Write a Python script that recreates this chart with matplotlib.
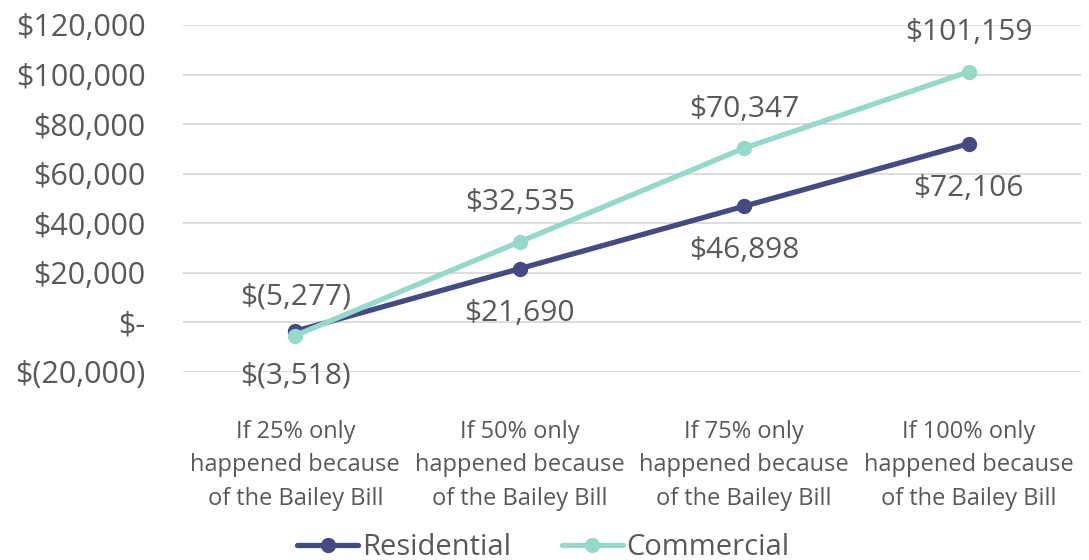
import matplotlib
matplotlib.use("Agg")
import matplotlib.pyplot as plt
from matplotlib.ticker import FuncFormatter

plt.rcParams['font.family'] = ['Open Sans', 'DejaVu Sans']

categories = ["If 25% only\nhappened because\nof the Bailey Bill",
              "If 50% only\nhappened because\nof the Bailey Bill",
              "If 75% only\nhappened because\nof the Bailey Bill",
              "If 100% only\nhappened because\nof the Bailey Bill"]
residential = [-3518, 21690, 46898, 72106]
commercial = [-5277, 32535, 70347, 101159]
y_ticks = [-20000, 0, 20000, 40000, 60000, 80000, 100000, 120000]

RES_COLOR = "#434B82"
COM_COLOR = "#94D9CA"
TEXT = "#595959"

def money(v, pos=None):
    if v == 0:
        return "$-"
    if v < 0:
        return "$({:,.0f})".format(-v)
    return "${:,.0f}".format(v)

fig = plt.figure(figsize=(10.89, 5.6), dpi=100)
ax = fig.add_axes([183/1089, 1-372/560, (1081-183)/1089, (372-25)/560])

x = list(range(len(categories)))
ax.plot(x, residential, color=RES_COLOR, lw=3.8, marker='o', ms=10,
        label="Residential", zorder=3, solid_capstyle='round')
ax.plot(x, commercial, color=COM_COLOR, lw=3.8, marker='o', ms=10,
        label="Commercial", zorder=4, solid_capstyle='round')

for xi, v in zip(x, residential):
    ax.annotate(money(v), (xi, v), xytext=(0, -32), textcoords='offset points',
                ha='center', va='center', fontsize=21.5, color=TEXT)
for xi, v in zip(x, commercial):
    ax.annotate(money(v), (xi, v), xytext=(0, 28), textcoords='offset points',
                ha='center', va='center', fontsize=21.5, color=TEXT)

ax.set_xlim(-0.5, len(categories) - 0.5)
ax.set_ylim(-20000, 120000)
ax.set_yticks(y_ticks)
ax.yaxis.set_major_formatter(FuncFormatter(money))
ax.grid(axis='y', color='#D9D9D9', lw=1.3)
ax.set_axisbelow(True)
for s in ax.spines.values():
    s.set_visible(False)
ax.tick_params(axis='y', length=0, labelsize=22, labelcolor=TEXT, pad=27)
ax.set_xticks(x)
ax.set_xticklabels(categories, fontsize=17, color=TEXT, linespacing=1.53)
ax.tick_params(axis='x', length=0, pad=34.5)

leg = fig.legend(loc='center', bbox_to_anchor=(0.499, 0.022), ncol=2, frameon=False,
                 fontsize=21, labelcolor=TEXT, handlelength=2.1, handletextpad=0.12,
                 columnspacing=1.75)

fig.savefig("out.png", dpi=100)
